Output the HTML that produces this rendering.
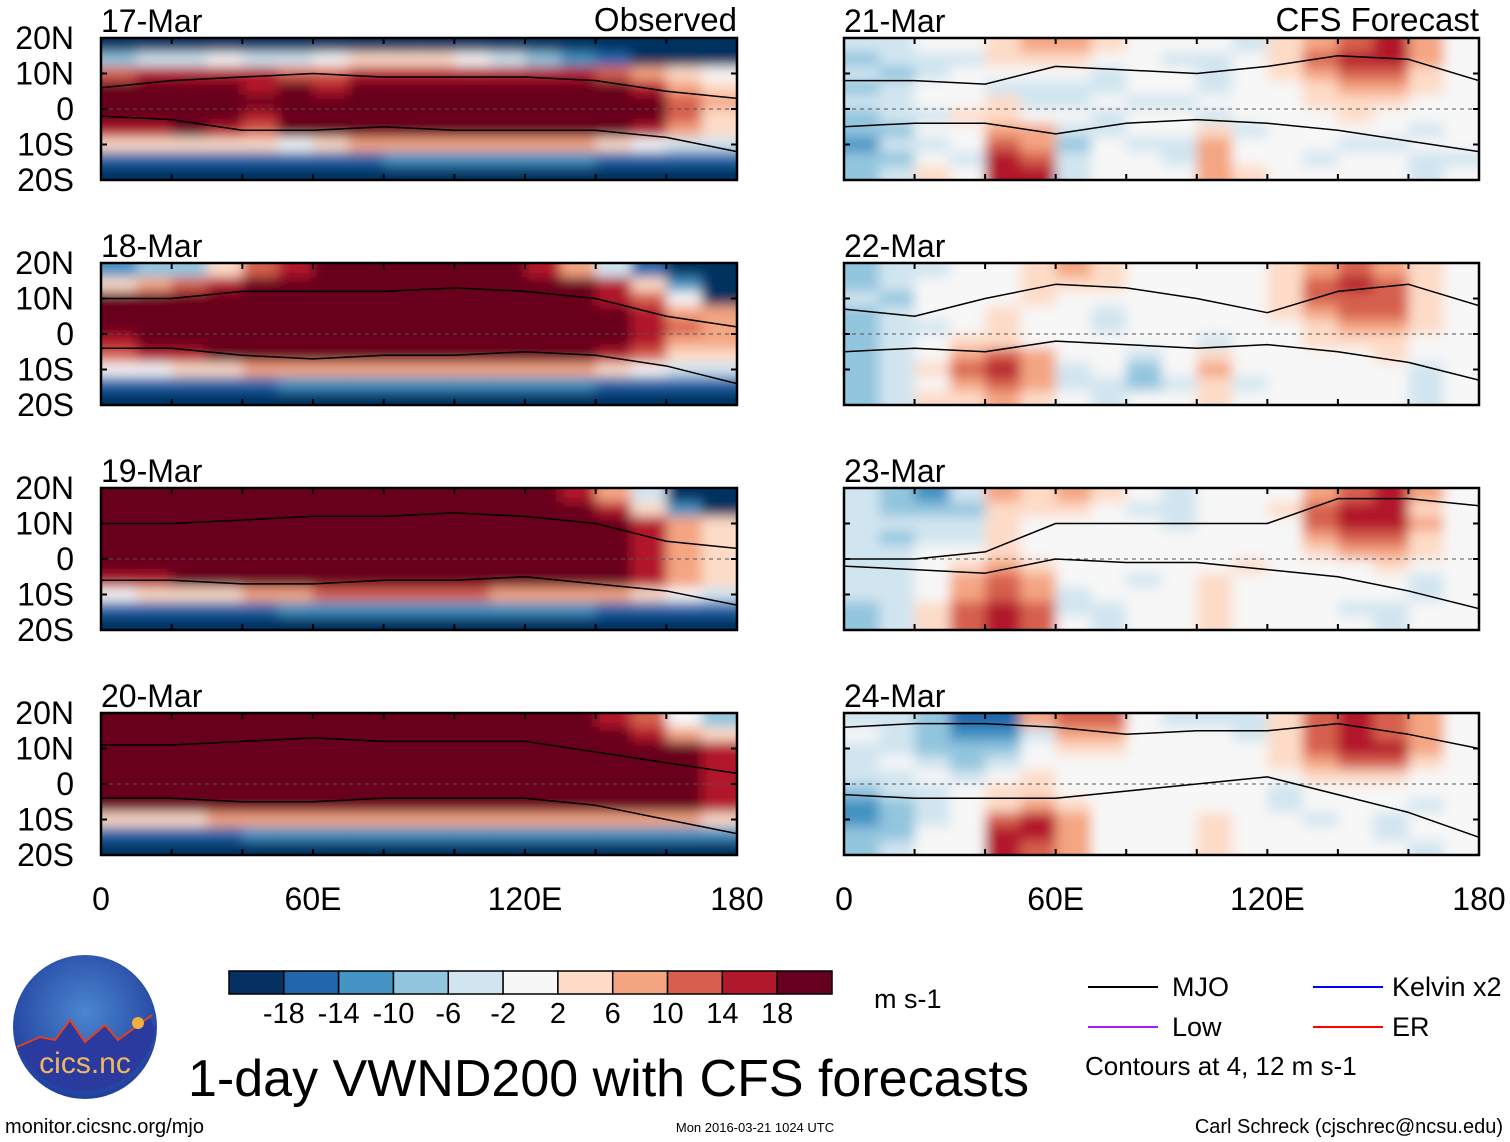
<!DOCTYPE html>
<html><head><meta charset="utf-8">
<style>
html,body{margin:0;padding:0;background:#fff;}
svg{display:block;font-family:"Liberation Sans",Arial,sans-serif;}
</style></head>
<body>
<svg id="chart" width="1510" height="1142" viewBox="0 0 1510 1142" xmlns="http://www.w3.org/2000/svg">
<defs>
<filter id="blur" x="-5%" y="-10%" width="110%" height="120%"><feGaussianBlur stdDeviation="6"/></filter>
</defs>
<g id="panels"></g>
<g id="texts"></g>
</svg>
<script>
const palette = ['#053061','#2166ac','#4393c3','#92c5de','#d1e5f0','#f7f7f7','#fddbc7','#f4a582','#d6604d','#b2182b','#67001f'];
const levels = [-18,-14,-10,-6,-2,2,6,10,14,18];
const panelDates = ['17-Mar','18-Mar','19-Mar','20-Mar','21-Mar','22-Mar','23-Mar','24-Mar'];
const latTicks = ['20N','10N','0','10S','20S'];
const lonTicks = ['0','60E','120E','180'];
// grids: color-class index per cell (rows 20N→20S by 4°, cols 0→180E by 10°), A=10
const grid17 = ["000000000000000000","344544566654321000","899998899999998765","AAAA9A9AAAAAAAA976","AAAAAAAAAAAAAAAA87","AAAA9AAAAAAAAAAA86","99A98AAAAAAAAAA976","666665677777776544","111111112222221111","000000000000000000"];
const grid18 = ["233689AAAAAA974100","6789AAAAAAAAAA9620","AAAAAAAAAAAAAA9850","AAAAAAAAAAAAAAA977","AAAAAAAAAAAAAAA987","9AAAAAAAAAAAAAA977","899AAAAAAAAAAA9866","556677777777776544","111112222222221111","000000000000000000"];
const grid19 = ["AAAAAAAAAAAAA97400","AAAAAAAAAAAAAA9620","AAAAAAAAAAAAAAA976","AAAAAAAAAAAAAAA976","AAAAAAAAAAAAAAA976","AAAAAAAAAAAAAAA976","99AAAAAAAAAAAAA976","566677888887777654","111112222222221111","000000000000000000"];
const grid20 = ["AAAAAAAAAAAAAA9853","AAAAAAAAAAAAAAA976","AAAAAAAAAAAAAAAAA9","AAAAAAAAAAAAAAAAA9","AAAAAAAAAAAAAAAAA9","AAAAAAAAAAAAAAAAA9","AAAAAAAAAAAAAAAAA9","666777777777777776","111122222222222222","000000000000000000"];
const grid21 = ["445567765554678975","344466655445689975","434555545545678865","345544445545567765","445564454455566655","344665545545556555","335577445564555545","244587354475554455","335498455475545544","346599455576555545"];
const grid22 = ["344556765555678765","345556665555689865","435556555555688865","345565545555678865","344565545555567765","345665555545566655","345787554565555655","346897453575555545","345787443464555545","346676545565555545"];
const grid23 = ["432476765455578975","433366654455689965","444465555455589975","434465555555578865","445565555555567765","445676555556555655","445787554565555545","445787455565555545","346898445565554455","346898545565555455"];
const grid24 = ["443117885444689875","543224775554689875","443335665555689975","454345555555678865","445456555555566655","344566555555455555","234567655555455545","234589755565545455","335599755565555455","345598755565555545"];
const grids = [grid17,grid18,grid19,grid20,grid21,grid22,grid23,grid24];
// MJO contour: north and south edge latitudes at lon 0,20,...,180
const mjoNorth = [[6,8,9,10,9,9,9,8,5,3],[10,10,12,12,12,13,12,10,5,2],[10,10,11,12,12,13,12,10,5,3],[11,11,12,13,12,12,12,9,6,3],[8,8,7,12,11,10,12,15,14,8],[7,5,10,14,13,10,6,12,14,8],[0,0,2,10,10,10,10,17,17,15],[16,17,17,16,14,15,15,17,14,10]];
const mjoSouth = [[-2,-3,-6,-6,-5,-6,-6,-6,-8,-12],[-4,-4,-6,-7,-6,-6,-5,-6,-9,-14],[-6,-6,-7,-7,-6,-6,-5,-7,-9,-13],[-4,-4,-5,-5,-4,-4,-4,-6,-10,-14],[-5,-4,-4,-7,-4,-3,-4,-6,-9,-12],[-5,-4,-5,-2,-3,-4,-3,-5,-8,-13],[-2,-3,-4,0,-1,-1,-3,-5,-9,-14],[-3,-4,-4,-4,-2,0,2,-3,-8,-15]];

const NS='http://www.w3.org/2000/svg';
function mk(tag, attrs, parent){const e=document.createElementNS(NS,tag);for(const k in attrs)e.setAttribute(k,attrs[k]);parent.appendChild(e);return e;}
const panelsG=document.getElementById('panels');
const textsG=document.getElementById('texts');
const lefts=[101,844], widths=[636,635], tops=[38,263,488,713], H=142;

grids.forEach((grid,pi)=>{
  const col=pi<4?0:1,row=pi%4;
  const x0=lefts[col],w=widths[col],y0=tops[row];
  const xs=lon=>x0+lon/180*w;
  const ys=lat=>y0+(20-lat)/40*H;
  const g=mk('g',{},panelsG);
  
  
  const cp=mk('clipPath',{id:'cp'+pi},g);
  mk('rect',{x:x0,y:y0,width:w,height:H},cp);
  const clipG=mk('g',{'clip-path':'url(#cp'+pi+')'},g);
  const heat=mk('g',{filter:'url(#blur)'},clipG);
  
  
  grid.forEach((rowStr,r)=>{
    for(let c=0;c<rowStr.length;c++){
      const v=parseInt(rowStr[c],16);
      let cx=xs(c*10),cw=xs((c+1)*10)-cx,cy=ys(20-r*4),ch=ys(20-(r+1)*4)-cy;
      if(c===0){cx-=20;cw+=20;} if(c===rowStr.length-1)cw+=20;
      if(r===0){cy-=20;ch+=20;} if(r===grid.length-1)ch+=20;
      const cell=mk('rect',{x:cx,y:cy,width:cw+0.5,height:ch+0.5,fill:palette[v]},heat);
      
      
    }
  });
  const eq=mk('line',{x1:x0,x2:x0+w,y1:ys(0),y2:ys(0),stroke:'#555','stroke-dasharray':'4,4','stroke-width':1},clipG);
  
  
  const n=mjoNorth[pi],s=mjoSouth[pi];
  let d='M'+xs(0)+','+ys(n[0]);
  n.forEach((v,i)=>{d+=' L'+xs(i*20)+','+ys(v);});
  for(let i=s.length-1;i>=0;i--)d+=' L'+xs(i*20)+','+ys(s[i]);
  const mj=mk('path',{d:d+' Z',fill:'none',stroke:'#000','stroke-width':1.5,'stroke-linejoin':'round'},clipG);
  
  
  const fr=mk('rect',{x:x0,y:y0,width:w,height:H,fill:'none',stroke:'#000','stroke-width':2.5},g);
  
  
  for(let lon=0;lon<=180;lon+=20){
    mk('line',{x1:xs(lon),x2:xs(lon),y1:y0,y2:y0+6,stroke:'#000','stroke-width':2},g);
    mk('line',{x1:xs(lon),x2:xs(lon),y1:y0+H,y2:y0+H-6,stroke:'#000','stroke-width':2},g);
  }
  for(let lat=-20;lat<=20;lat+=10){
    mk('line',{x1:x0,x2:x0+6,y1:ys(lat),y2:ys(lat),stroke:'#000','stroke-width':2},g);
    mk('line',{x1:x0+w,x2:x0+w-6,y1:ys(lat),y2:ys(lat),stroke:'#000','stroke-width':2},g);
  }
  const t=mk('text',{x:x0,y:y0-6,'font-size':32},g);
  t.textContent=panelDates[pi];
  
  
  if(col===0){
    latTicks.forEach((lb,i)=>{
      const tl=mk('text',{x:74,y:ys(20-i*10)+11,'font-size':32,'text-anchor':'end'},g);
      tl.textContent=lb;
      
      
    });
  }
  if(row===3){
    lonTicks.forEach((lb,i)=>{
      const tl=mk('text',{x:xs(i*60),y:910,'font-size':32,'text-anchor':'middle'},g);
      tl.textContent=lb;
      
      
    });
  }
});
const cbx=229,cbw=603/11;
palette.forEach((c,i)=>{
  const r=mk('rect',{x:cbx+i*cbw,y:971,width:cbw,height:23,fill:c,stroke:'#000','stroke-width':1.5},textsG);
  
  
});
levels.forEach((lv,i)=>{
  const t=mk('text',{x:cbx+(i+1)*cbw,y:1023,'font-size':29,'text-anchor':'middle'},textsG);
  t.textContent=lv;
  
  
});
</script>
<svg style="position:absolute;left:0;top:0" width="1510" height="1142" xmlns="http://www.w3.org/2000/svg">
<defs><radialGradient id="logoGrad2" cx="50%" cy="40%" r="60%"><stop offset="0" stop-color="#4a86d0"/><stop offset="1" stop-color="#203f9c"/></radialGradient></defs>
<g font-family="Liberation Sans, Arial, sans-serif">
<text x="737" y="31" font-size="33" text-anchor="end">Observed</text>
<text x="1479" y="31" font-size="33" text-anchor="end">CFS Forecast</text>
<text x="874" y="1008" font-size="27">m s-1</text>
<g>
<line x1="1088" x2="1158" y1="987" y2="987" stroke="#000" stroke-width="2"/>
<text x="1172" y="996" font-size="27">MJO</text>
<line x1="1088" x2="1158" y1="1027" y2="1027" stroke="#a020f0" stroke-width="2"/>
<text x="1172" y="1036" font-size="27">Low</text>
<line x1="1313" x2="1383" y1="987" y2="987" stroke="#0000ff" stroke-width="2"/>
<text x="1392" y="996" font-size="27">Kelvin x2</text>
<line x1="1313" x2="1383" y1="1027" y2="1027" stroke="#ff0000" stroke-width="2"/>
<text x="1392" y="1036" font-size="27">ER</text>
<text x="1085" y="1075" font-size="26">Contours at 4, 12 m s-1</text>
</g>
<text x="188" y="1096" font-size="52">1-day VWND200 with CFS forecasts</text>
<text x="5" y="1133" font-size="20">monitor.cicsnc.org/mjo</text>
<text x="755" y="1132" font-size="13" text-anchor="middle">Mon 2016-03-21 1024 UTC</text>
<text x="1503" y="1133" font-size="20" text-anchor="end">Carl Schreck (cjschrec@ncsu.edu)</text>
<g>
<circle cx="85" cy="1027" r="72" fill="url(#logoGrad2)"/>
<path d="M17 1047 L40 1037 L55 1040 L70 1020 L85 1042 L105 1025 L118 1040 L150 1018 L155 1030 A72 72 0 0 1 15 1040 Z" fill="#2a3a9e"/>
<path d="M17 1047 L40 1037 L55 1040 L70 1020 L85 1042 L105 1025 L118 1040 L152 1015" fill="none" stroke="#e04020" stroke-width="2"/>
<circle cx="138" cy="1023" r="6" fill="#f0b040"/>
<text x="85" y="1073" font-size="30" fill="#f0b860" text-anchor="middle">cics.nc</text>
</g>
</g>
</svg>
</body></html>
